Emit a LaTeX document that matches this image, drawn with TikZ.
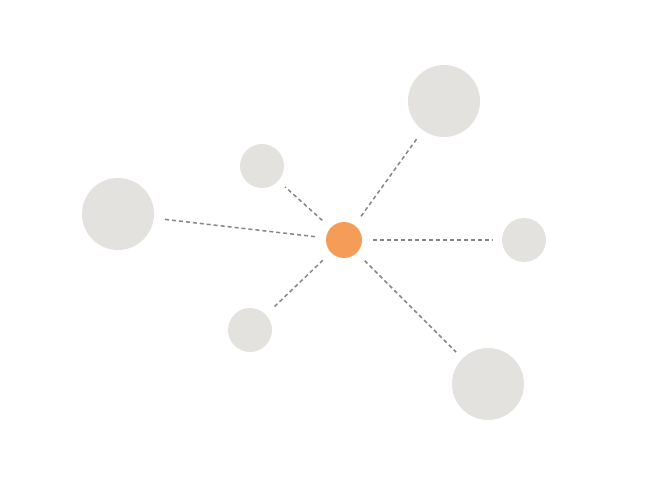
\documentclass[tikz,border=0pt]{standalone}
\usepackage{tikz}
\definecolor{hubcol}{HTML}{F49C58}
\definecolor{leafcol}{HTML}{E3E2DF}
\definecolor{linkcol}{HTML}{858585}
\begin{document}
\begin{tikzpicture}[x=1pt,y=-1pt,
  hub/.style={circle,fill=hubcol,draw=none,inner sep=0pt,minimum size=36pt},
  bigleaf/.style={circle,fill=leafcol,draw=none,inner sep=0pt,minimum size=72pt},
  smallleaf/.style={circle,fill=leafcol,draw=none,inner sep=0pt,minimum size=44pt},
  link/.style={draw=linkcol,line width=1.5pt,dash pattern=on 4pt off 3pt,shorten <=11pt,shorten >=9pt}]
\useasboundingbox (0,0) rectangle (648,484);
\node[hub] (c) at (344,240) {};
\node[bigleaf] (tr) at (444,101) {};
\node[smallleaf] (tl) at (262,166) {};
\node[bigleaf] (l) at (118,214) {};
\node[smallleaf] (r) at (524,240) {};
\node[smallleaf] (bl) at (250,330) {};
\node[bigleaf] (br) at (488,384) {};
\draw[link] (c) -- (tr);
\draw[link] (c) -- (tl);
\draw[link] (c) -- (l);
\draw[link] (c) -- (r);
\draw[link] (c) -- (bl);
\draw[link] (c) -- (br);
\end{tikzpicture}
\end{document}
